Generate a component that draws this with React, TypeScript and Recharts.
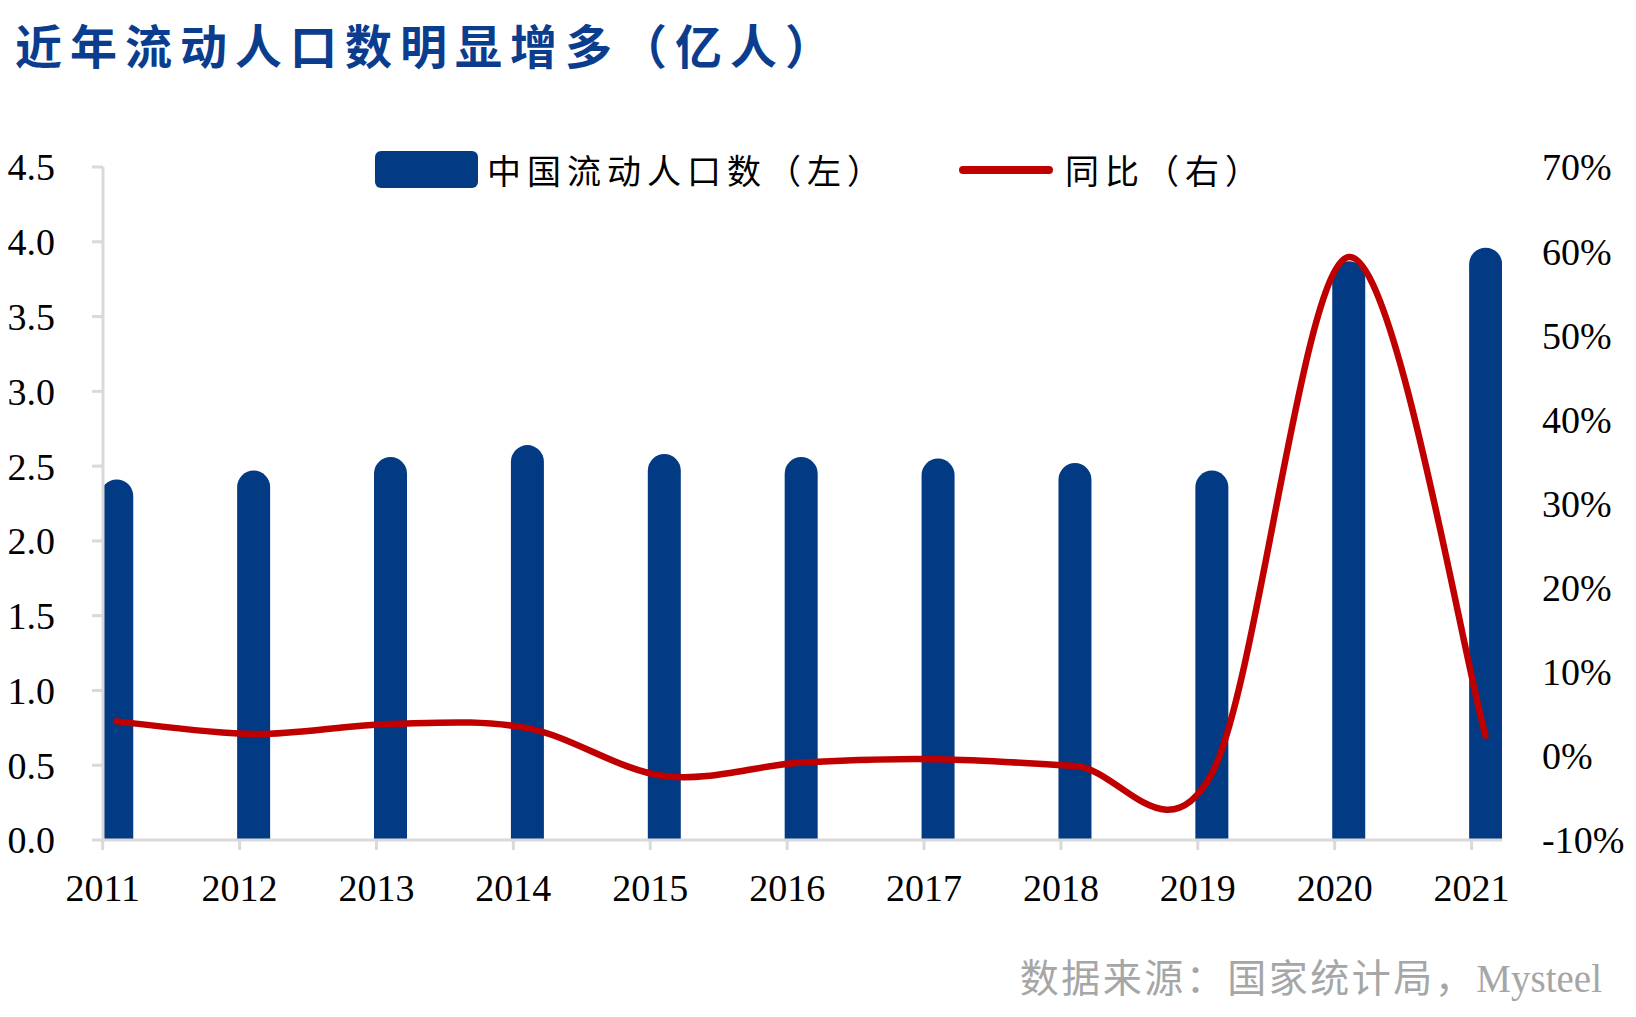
import { ComposedChart, Bar, Line, XAxis, YAxis, Legend } from 'recharts';

// 中国流动人口（亿人）及同比增速（%）
const years = [2011, 2012, 2013, 2014, 2015, 2016, 2017, 2018, 2019, 2020, 2021];
const population = [2.3, 2.36, 2.45, 2.53, 2.47, 2.45, 2.44, 2.41, 2.36, 3.76, 3.85];
const yoy = [4.1, 2.6, 3.8, 3.3, -2.4, -0.8, -0.4, -1.2, -2.1, 59.3, 2.4];

const leftTicks = [0, 0.5, 1, 1.5, 2, 2.5, 3, 3.5, 4, 4.5];
const rightTicks = [-10, 0, 10, 20, 30, 40, 50, 60, 70];

const data = years.map((year, i) => ({ year, population: population[i], yoy: yoy[i] }));

const BAR_COLOR = '#033A84';
const LINE_COLOR = '#C00000';
const AXIS_GRAY = '#D9D9D9';
const SERIF = '"Liberation Serif", "Times New Roman", serif';
const CJK = '"Noto Sans CJK SC", sans-serif';

// label/tick sits a little left of the bar, like the original Excel date axis
const LABEL_SHIFT = -14;

// Excel style smoothed line (cardinal spline, tension 0)
function excelSmooth(context: any) {
  let xs: number[] = [];
  let ys: number[] = [];
  return {
    areaStart() {},
    areaEnd() {},
    lineStart() {
      xs = [];
      ys = [];
    },
    point(x: number, y: number) {
      xs.push(+x);
      ys.push(+y);
    },
    lineEnd() {
      const n = xs.length;
      if (!n) return;
      context.moveTo(xs[0], ys[0]);
      for (let i = 0; i < n - 1; i++) {
        const a = Math.max(i - 1, 0);
        const d = Math.min(i + 2, n - 1);
        context.bezierCurveTo(
          xs[i] + (xs[i + 1] - xs[a]) / 6,
          ys[i] + (ys[i + 1] - ys[a]) / 6,
          xs[i + 1] - (xs[d] - xs[i]) / 6,
          ys[i + 1] - (ys[d] - ys[i]) / 6,
          xs[i + 1],
          ys[i + 1]
        );
      }
    },
  };
}

// bar with a round cap sitting on top of the value
const CapBar = (props: any) => {
  const { x, y, width, height, fill } = props;
  if (height == null || width == null) return null;
  const r = width / 2;
  const d = `M${x},${y + height} L${x},${y} A${r},${r} 0 0 1 ${x + width},${y} L${x + width},${y + height} Z`;
  return <path d={d} fill={fill} />;
};

const YearTick = (props: any) => {
  const { x, y, payload } = props;
  const tx = x + LABEL_SHIFT;
  return (
    <g>
      <line x1={tx} x2={tx} y1={y - 34} y2={y - 24} stroke={AXIS_GRAY} strokeWidth={3} />
      <text x={tx} y={y} dy="0.71em" textAnchor="middle" fill="#000" fontSize={38} fontFamily={SERIF}>
        {payload.value}
      </text>
    </g>
  );
};

const renderLegend = () => (
  <div
    style={{
      display: 'flex',
      alignItems: 'center',
      fontFamily: CJK,
      fontSize: 34,
      letterSpacing: 6,
      lineHeight: 1,
      color: '#000',
      whiteSpace: 'nowrap',
    }}
  >
    <span style={{ display: 'inline-block', width: 103, height: 37, background: BAR_COLOR, borderRadius: 6 }} />
    <span style={{ marginLeft: 9 }}>中国流动人口数（左）</span>
    <span
      style={{ display: 'inline-block', marginLeft: 72, width: 94, height: 8, background: LINE_COLOR, borderRadius: 4 }}
    />
    <span style={{ marginLeft: 12 }}>同比（右）</span>
  </div>
);

export default function App() {
  return (
    <div style={{ position: 'relative', width: 1636, height: 1017, background: '#fff', overflow: 'hidden' }}>
      <style>{'body{margin:0}'}</style>
      <div
        style={{
          position: 'absolute',
          left: 15,
          top: 20,
          fontFamily: CJK,
          fontWeight: 700,
          fontSize: 47,
          lineHeight: '47px',
          letterSpacing: 8,
          color: '#0B3D8F',
          whiteSpace: 'nowrap',
        }}
      >
        近年流动人口数明显增多（亿人）
      </div>

      <ComposedChart width={1636} height={1017} data={data} margin={{ top: 167, right: 0, bottom: 0, left: 0 }}>
        <XAxis
          dataKey="year"
          type="number"
          domain={[years[0] - 0.1, years[years.length - 1] + 0.12]}
          allowDataOverflow
          ticks={years}
          interval={0}
          height={177}
          tickSize={10}
          tickMargin={24}
          tickLine={false}
          axisLine={{ stroke: AXIS_GRAY, strokeWidth: 3 }}
          tick={<YearTick />}
        />
        <YAxis
          yAxisId="left"
          domain={[0, 4.5]}
          ticks={leftTicks}
          width={103}
          tickSize={11}
          tickMargin={37}
          axisLine={{ stroke: AXIS_GRAY, strokeWidth: 3 }}
          tickLine={{ stroke: AXIS_GRAY, strokeWidth: 3 }}
          tickFormatter={(v: number) => v.toFixed(1)}
          tick={{ fill: '#000', fontSize: 38, fontFamily: SERIF }}
        />
        <YAxis
          yAxisId="right"
          orientation="right"
          domain={[-10, 70]}
          ticks={rightTicks}
          width={134}
          tickSize={0}
          tickMargin={40}
          axisLine={false}
          tickLine={false}
          tickFormatter={(v: number) => `${v}%`}
          tick={{ fill: '#000', fontSize: 38, fontFamily: SERIF, textAnchor: 'start' }}
        />
        <Legend
          layout="horizontal"
          verticalAlign="middle"
          align="center"
          content={renderLegend}
          wrapperStyle={{ top: 151, left: 375, width: 'auto', height: 37 }}
        />
        <Bar
          yAxisId="left"
          dataKey="population"
          name="中国流动人口数（左）"
          fill={BAR_COLOR}
          barSize={33}
          shape={<CapBar />}
          isAnimationActive={false}
        />
        <Line
          yAxisId="right"
          dataKey="yoy"
          name="同比（右）"
          type={excelSmooth as any}
          stroke={LINE_COLOR}
          strokeWidth={6.5}
          strokeLinecap="round"
          dot={false}
          activeDot={false}
          isAnimationActive={false}
        />
      </ComposedChart>

      <div
        style={{
          position: 'absolute',
          right: 34,
          top: 953,
          fontSize: 39,
          lineHeight: '44px',
          color: '#A6A6A6',
          whiteSpace: 'nowrap',
        }}
      >
        <span style={{ fontFamily: CJK, letterSpacing: 2.5 }}>数据来源：国家统计局，</span>
        <span style={{ fontFamily: SERIF }}>Mysteel</span>
      </div>
    </div>
  );
}
